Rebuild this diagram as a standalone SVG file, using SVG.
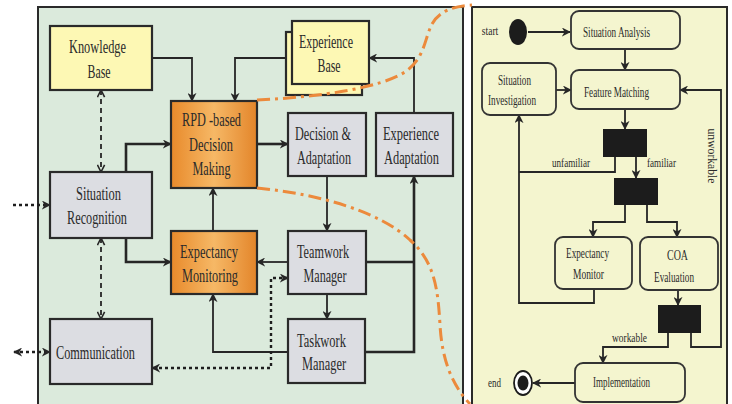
<svg xmlns="http://www.w3.org/2000/svg" width="732" height="404" viewBox="0 0 732 404">
  <defs>
    <linearGradient id="orangeFill" x1="0" y1="0" x2="1" y2="0">
      <stop offset="0" stop-color="#e88a2b"/>
      <stop offset="0.5" stop-color="#f6b866"/>
      <stop offset="1" stop-color="#e3852a"/>
    </linearGradient>
    <marker id="arr" viewBox="0 0 10 10" refX="9" refY="5" markerWidth="9" markerHeight="9" markerUnits="userSpaceOnUse" orient="auto-start-reverse">
      <path d="M0,0 L10,5 L0,10 L3,5 z" fill="#262626"/>
    </marker>
    <marker id="arrOpen" viewBox="0 0 10 10" refX="9" refY="5" markerWidth="9" markerHeight="9" markerUnits="userSpaceOnUse" orient="auto-start-reverse">
      <path d="M1,1 L9,5 L1,9" fill="none" stroke="#262626" stroke-width="1.8"/>
    </marker>
  </defs>
  <style>
    .txt { font-family: "Liberation Serif", "Times New Roman", serif; fill: #2a2a2a; text-anchor: middle; }
    .big { font-size: 18px; }
    .sm { font-size: 14px; }
    .xs { font-size: 12.5px; }
    .box { stroke: #2a2a2a; stroke-width: 2.2; }
    .grey { fill: #dcdde2; }
    .yellow { fill: #fdf8b4; }
    .orange { fill: url(#orangeFill); }
    .rbox { fill: #f4f5cf; stroke: #333; stroke-width: 1.8; }
    .bar { fill: #1c1c1c; }
    .ln { fill: none; stroke: #262626; stroke-width: 1.8; }
    .thick { stroke-width: 2.6; }
    .dash { fill: none; stroke: #262626; stroke-width: 1.8; stroke-dasharray: 5 4; }
    .dot { fill: none; stroke: #1e1e1e; stroke-width: 2.4; stroke-dasharray: 3 3; }
    .zoomline { fill: none; stroke: #ec8a3c; stroke-width: 3; stroke-dasharray: 13 5 3 5; }
  </style>

  <rect width="732" height="404" fill="#ffffff"/>

  <!-- left panel: team cognition architecture -->
  <rect x="38" y="7" width="425" height="400" fill="#dbeadc" stroke="#2a2a2a" stroke-width="2"/>
  <!-- right panel: RPD activity flow -->
  <rect x="472" y="7" width="255" height="400" fill="#f4f5cf" stroke="#2a2a2a" stroke-width="2"/>

  <!-- architecture connectors -->
  <g id="connectors-left">
    <path class="ln" d="M152,58 H192 V101" marker-end="url(#arr)"/>
    <path class="ln" d="M286,58 H235 V101" marker-end="url(#arr)"/>
    <path class="ln" d="M414,113 V58 H369" marker-end="url(#arr)"/>
    <path class="ln thick" d="M257,144 H288" marker-end="url(#arr)"/>
    <path class="ln thick" d="M126,172 V144 H171" marker-end="url(#arr)"/>
    <path class="ln thick" d="M126,238 V262 H171" marker-end="url(#arr)"/>
    <path class="ln" d="M213,231 V188" marker-end="url(#arr)"/>
    <path class="ln" d="M327,176 V231" marker-end="url(#arr)"/>
    <path class="ln" d="M327,294 V319" marker-end="url(#arr)"/>
    <path class="ln" d="M288,262 H257" marker-end="url(#arr)"/>
    <path class="ln thick" d="M366,262 H414"/>
    <path class="ln thick" d="M365,352 H414 V176" marker-end="url(#arr)"/>
    <path class="ln" d="M288,352 H213 V294" marker-end="url(#arr)"/>
    <path class="dot" d="M288,278 H271 V368 H152" marker-start="url(#arr)" marker-end="url(#arr)"/>
    <path class="dash" d="M101,90 V172" marker-start="url(#arrOpen)" marker-end="url(#arrOpen)"/>
    <path class="dash" d="M101,238 V319" marker-start="url(#arrOpen)" marker-end="url(#arrOpen)"/>
    <path class="dot" d="M13,205 H50" marker-end="url(#arr)"/>
    <path class="dot" d="M14,352 H50" marker-start="url(#arr)" marker-end="url(#arr)"/>
  </g>

  <g id="knowledge-base">
    <rect class="box yellow" x="50" y="26" width="102" height="64"/>
    <text class="txt big" x="97.5" y="53" textLength="57" lengthAdjust="spacingAndGlyphs">Knowledge</text>
    <text class="txt big" x="99" y="78" textLength="23" lengthAdjust="spacingAndGlyphs">Base</text>
  </g>
  <g id="experience-base">
    <rect class="box yellow" x="286" y="32" width="76" height="63"/>
    <rect class="box yellow" x="292" y="21" width="77" height="63"/>
    <text class="txt big" x="326" y="48" textLength="54" lengthAdjust="spacingAndGlyphs">Experience</text>
    <text class="txt big" x="329" y="72" textLength="23" lengthAdjust="spacingAndGlyphs">Base</text>
  </g>
  <g id="rpd-decision-making">
    <rect class="box orange" x="171" y="101" width="86" height="87"/>
    <text class="txt big" x="211.5" y="126" textLength="59" lengthAdjust="spacingAndGlyphs">RPD -based</text>
    <text class="txt big" x="211" y="151" textLength="44" lengthAdjust="spacingAndGlyphs">Decision</text>
    <text class="txt big" x="211.5" y="175" textLength="38" lengthAdjust="spacingAndGlyphs">Making</text>
  </g>
  <g id="decision-adaptation">
    <rect class="box grey" x="288" y="113" width="78" height="63"/>
    <text class="txt big" x="323" y="140" textLength="56" lengthAdjust="spacingAndGlyphs">Decision &amp;</text>
    <text class="txt big" x="324" y="164" textLength="54" lengthAdjust="spacingAndGlyphs">Adaptation</text>
  </g>
  <g id="experience-adaptation">
    <rect class="box grey" x="376" y="113" width="77" height="63"/>
    <text class="txt big" x="411" y="140" textLength="56" lengthAdjust="spacingAndGlyphs">Experience</text>
    <text class="txt big" x="411.5" y="164" textLength="55" lengthAdjust="spacingAndGlyphs">Adaptation</text>
  </g>
  <g id="situation-recognition">
    <rect class="box grey" x="50" y="172" width="102" height="66"/>
    <text class="txt big" x="98.5" y="200" textLength="45" lengthAdjust="spacingAndGlyphs">Situation</text>
    <text class="txt big" x="97" y="224" textLength="60" lengthAdjust="spacingAndGlyphs">Recognition</text>
  </g>
  <g id="expectancy-monitoring">
    <rect class="box orange" x="171" y="231" width="86" height="63"/>
    <text class="txt big" x="209" y="258" textLength="58" lengthAdjust="spacingAndGlyphs">Expectancy</text>
    <text class="txt big" x="210" y="282" textLength="56" lengthAdjust="spacingAndGlyphs">Monitoring</text>
  </g>
  <g id="teamwork-manager">
    <rect class="box grey" x="288" y="231" width="78" height="63"/>
    <text class="txt big" x="323" y="258" textLength="52" lengthAdjust="spacingAndGlyphs">Teamwork</text>
    <text class="txt big" x="325" y="282" textLength="43" lengthAdjust="spacingAndGlyphs">Manager</text>
  </g>
  <g id="communication">
    <rect class="box grey" x="50" y="319" width="102" height="65"/>
    <text class="txt big" x="95.5" y="359" textLength="79" lengthAdjust="spacingAndGlyphs">Communication</text>
  </g>
  <g id="taskwork-manager">
    <rect class="box grey" x="288" y="319" width="77" height="64"/>
    <text class="txt big" x="321.5" y="347" textLength="49" lengthAdjust="spacingAndGlyphs">Taskwork</text>
    <text class="txt big" x="324" y="370" textLength="44" lengthAdjust="spacingAndGlyphs">Manager</text>
  </g>

  <!-- orange dash-dot zoom lines from the RPD box to the detail panel -->
  <g id="zoom-lines">
    <path class="zoomline" d="M257,100 C320,97 380,88 405,72 C425,58 424,40 432,24 C440,10 455,6 472,5"/>
    <path class="zoomline" d="M257,188 C320,194 380,212 410,240 C435,262 438,290 440,325 C442,360 452,385 470,404"/>
  </g>

  <!-- activity flow connectors -->
  <g id="connectors-right">
    <path class="ln" d="M528,32 H570" marker-end="url(#arr)"/>
    <path class="ln" d="M625,49 V70" marker-end="url(#arr)"/>
    <path class="ln" d="M556,90 H571" marker-end="url(#arr)"/>
    <path class="ln" d="M625,109 V129" marker-end="url(#arr)"/>
    <path class="ln" d="M615,157 V172 H519"/>
    <path class="ln" d="M594,289 V303 H519 V115" marker-end="url(#arr)"/>
    <path class="ln" d="M636,157 V178" marker-end="url(#arr)"/>
    <path class="ln" d="M625,205 V222 H593 V237" marker-end="url(#arr)"/>
    <path class="ln" d="M647,205 V222 H677 V237" marker-end="url(#arr)"/>
    <path class="ln" d="M678,290 V305" marker-end="url(#arr)"/>
    <path class="ln" d="M668,333 V347 H603 V363" marker-end="url(#arr)"/>
    <path class="ln" d="M691,333 V347 H721 V90 H680" marker-end="url(#arr)"/>
    <path class="ln" d="M575,383 H533" marker-end="url(#arr)"/>
    <text class="txt xs" x="571" y="167" textLength="38" lengthAdjust="spacingAndGlyphs">unfamiliar</text>
    <text class="txt xs" x="661.5" y="167" textLength="29" lengthAdjust="spacingAndGlyphs">familiar</text>
    <text class="txt xs" x="629.5" y="342" textLength="35" lengthAdjust="spacingAndGlyphs">workable</text>
    <text class="txt xs" transform="translate(708,156) rotate(90)" x="0" y="0" textLength="55" lengthAdjust="spacingAndGlyphs">unworkable</text>
  </g>

  <g id="start">
    <ellipse cx="518" cy="32" rx="9" ry="13" fill="#1c1c1c"/>
    <text class="txt xs" x="490" y="35" textLength="16.5" lengthAdjust="spacingAndGlyphs">start</text>
  </g>
  <g id="situation-analysis">
    <rect class="rbox" x="571" y="11" width="109" height="38" rx="8"/>
    <text class="txt sm" x="616.5" y="37" textLength="67" lengthAdjust="spacingAndGlyphs">Situation Analysis</text>
  </g>
  <g id="situation-investigation">
    <rect class="rbox" x="482" y="63" width="74" height="52" rx="8"/>
    <text class="txt sm" x="514.5" y="85" textLength="33" lengthAdjust="spacingAndGlyphs">Situation</text>
    <text class="txt sm" x="512" y="105" textLength="48" lengthAdjust="spacingAndGlyphs">Investigation</text>
  </g>
  <g id="feature-matching">
    <rect class="rbox" x="571" y="70" width="109" height="39" rx="8"/>
    <text class="txt sm" x="616.5" y="97" textLength="65" lengthAdjust="spacingAndGlyphs">Feature Matching</text>
  </g>
  <g id="branch-familiarity">
    <rect class="bar" x="603" y="129" width="44" height="28"/>
  </g>
  <g id="fork">
    <rect class="bar" x="614" y="178" width="44" height="27"/>
  </g>
  <g id="expectancy-monitor">
    <rect class="rbox" x="555" y="237" width="77" height="52" rx="8"/>
    <text class="txt sm" x="587.5" y="258" textLength="43" lengthAdjust="spacingAndGlyphs">Expectancy</text>
    <text class="txt sm" x="588.5" y="279" textLength="31" lengthAdjust="spacingAndGlyphs">Monitor</text>
  </g>
  <g id="coa-evaluation">
    <rect class="rbox" x="640" y="237" width="78" height="53" rx="8"/>
    <text class="txt sm" x="677.5" y="260" textLength="21" lengthAdjust="spacingAndGlyphs">COA</text>
    <text class="txt sm" x="674" y="282" textLength="40" lengthAdjust="spacingAndGlyphs">Evaluation</text>
  </g>
  <g id="branch-workable">
    <rect class="bar" x="658" y="305" width="43" height="28"/>
  </g>
  <g id="implementation">
    <rect class="rbox" x="575" y="363" width="110" height="39" rx="8"/>
    <text class="txt sm" x="621.5" y="387" textLength="57" lengthAdjust="spacingAndGlyphs">Implementation</text>
  </g>
  <g id="end">
    <ellipse cx="523" cy="383" rx="9" ry="12" fill="#ffffff" stroke="#1c1c1c" stroke-width="1.8"/>
    <ellipse cx="523" cy="383" rx="5.5" ry="7.5" fill="#1c1c1c"/>
    <text class="txt xs" x="494.5" y="387" textLength="13" lengthAdjust="spacingAndGlyphs">end</text>
  </g>
</svg>
